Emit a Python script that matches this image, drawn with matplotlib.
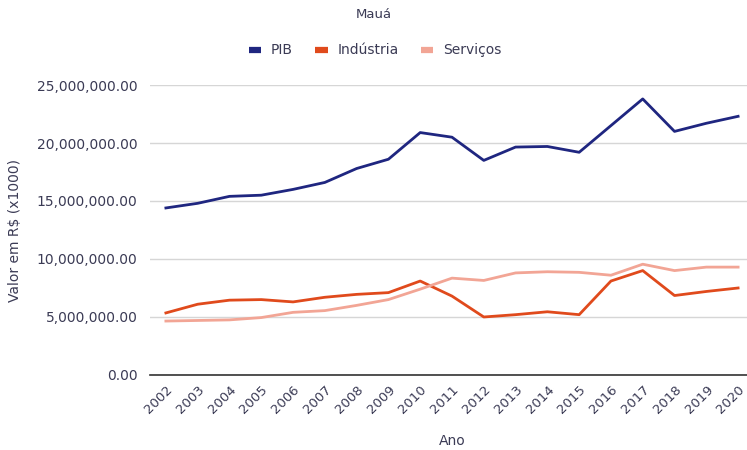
import matplotlib
matplotlib.use("Agg")
import matplotlib.pyplot as plt
from matplotlib.ticker import FuncFormatter

anos = list(range(2002, 2021))
pib = [14.4, 14.8, 15.4, 15.5, 16.0, 16.6, 17.8, 18.6, 20.9, 20.5,
       18.5, 19.65, 19.7, 19.2, 21.5, 23.8, 21.0, 21.7, 22.3]
industria = [5.35, 6.1, 6.45, 6.5, 6.3, 6.7, 6.95, 7.1, 8.1, 6.8,
             5.0, 5.2, 5.45, 5.2, 8.1, 9.0, 6.85, 7.2, 7.5]
servicos = [4.65, 4.7, 4.75, 4.95, 5.4, 5.55, 6.0, 6.5, 7.4, 8.35,
            8.15, 8.8, 8.9, 8.85, 8.6, 9.55, 9.0, 9.3, 9.3]

# valores em milhoes -> R$ (x1000)
pib = [v * 1e6 for v in pib]
industria = [v * 1e6 for v in industria]
servicos = [v * 1e6 for v in servicos]

text_color = "#3b3b55"
plt.rcParams["font.family"] = ["DejaVu Sans"]

fig = plt.figure(figsize=(7.47, 4.5), dpi=100)
ax = fig.add_axes([0.2008, 0.1667, 0.7992, 0.6444])

ax.plot(anos, pib, color="#1f2680", lw=2.0, label="PIB")
ax.plot(anos, industria, color="#e04a1c", lw=2.0, label="Indústria")
ax.plot(anos, servicos, color="#f2a595", lw=2.0, label="Serviços")

ax.set_xlim(2001.5, 2020.28)
ax.set_ylim(0, 25e6)
ax.set_yticks([0, 5e6, 10e6, 15e6, 20e6, 25e6])
ax.yaxis.set_major_formatter(FuncFormatter(lambda v, p: f"{v:,.2f}"))
ax.set_xticks(anos)
ax.set_xticklabels([str(a) for a in anos], rotation=45, ha="right",
                   rotation_mode="anchor", fontsize=9.5, color=text_color)
ax.tick_params(axis="y", labelsize=10, labelcolor=text_color, length=0, pad=9)
ax.tick_params(axis="x", length=0, pad=6)

ax.grid(axis="y", color="#d6d6d6", lw=1)
ax.set_axisbelow(True)
for s in ["top", "right", "left"]:
    ax.spines[s].set_visible(False)
ax.spines["bottom"].set_color("#333333")
ax.spines["bottom"].set_linewidth(1.2)

fig.text(15 / 747, 1 - 230 / 450, "Valor em R$ (x1000)", rotation=90,
         ha="center", va="center", fontsize=10, color=text_color)
fig.text(452 / 747, 1 - 441 / 450, "Ano", ha="center", va="center",
         fontsize=10, color=text_color)
fig.text(0.5, 1 - 15 / 450, "Mauá", ha="center", va="center", fontsize=9.5, color=text_color)

leg = fig.legend(loc="center", bbox_to_anchor=(0.502, 1 - 50 / 450), ncol=3, frameon=False,
                 fontsize=10, handlelength=0.9, handleheight=0.5, columnspacing=1.6,
                 handletextpad=0.7, labelcolor=text_color)
for h in leg.get_lines():
    h.set_linewidth(4.5)
    h.set_solid_capstyle("butt")

fig.savefig("out.png", dpi=100)
